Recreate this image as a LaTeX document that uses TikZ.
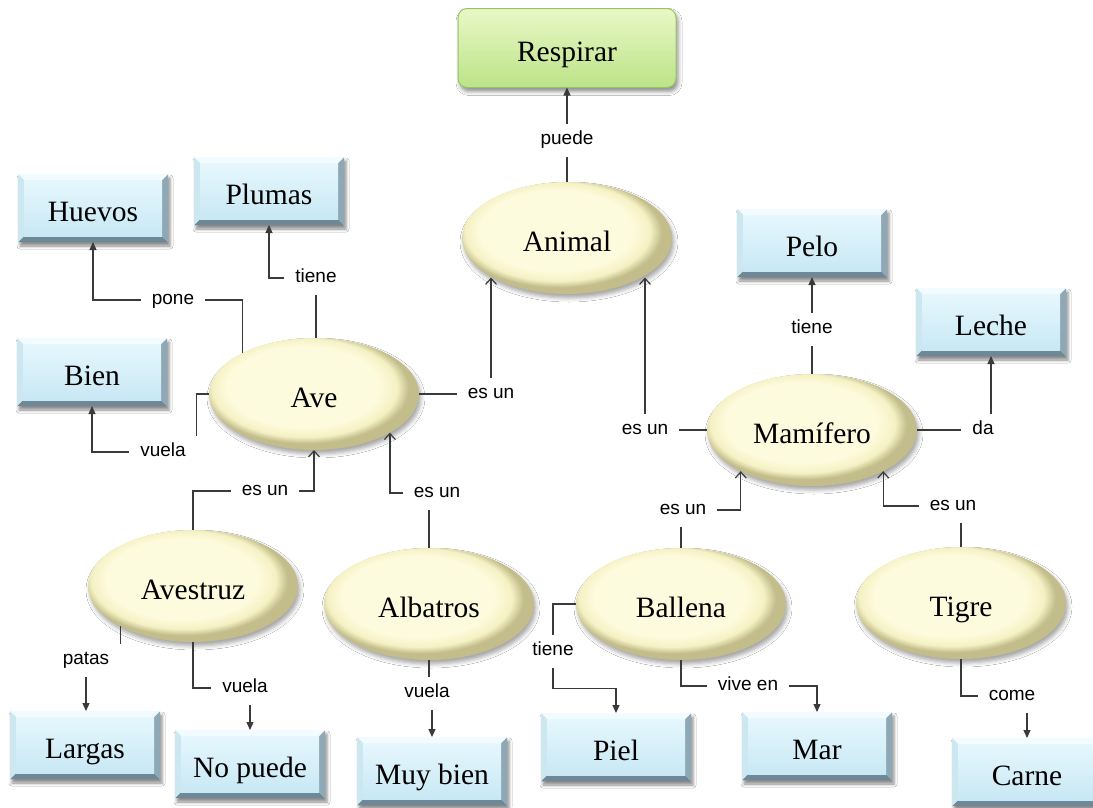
\documentclass[tikz,border=0pt]{standalone}
\usepackage{fontspec}
\setmainfont{Liberation Serif}
\newfontfamily\labelfont{Liberation Sans}
\usetikzlibrary{arrows.meta,shadows.blur,calc,shapes.geometric}

\definecolor{linkgray}{HTML}{3A3A3A}
\definecolor{boxtop}{HTML}{E6F7FD}
\definecolor{boxbot}{HTML}{C8E8F4}
\definecolor{bevlight}{HTML}{F2FBFF}
\definecolor{bevleft}{HTML}{CDE7F1}
\definecolor{bevright}{HTML}{8FA8B6}
\definecolor{bevbottom}{HTML}{6F8898}
\definecolor{ellin}{HTML}{FDFBDD}
\definecolor{ellmid}{HTML}{F5F1C4}
\definecolor{ellrim}{HTML}{C2BD8A}
\definecolor{greentop}{HTML}{E8F8C6}
\definecolor{greenbot}{HTML}{BCE388}
\definecolor{greenrim}{HTML}{98C266}

% concept ellipse: pale cream face, darker olive rim towards the lower right
\pgfdeclareradialshading{conceptshade}{\pgfpoint{-4bp}{5bp}}{%
  color(0bp)=(ellin); color(18bp)=(ellin); color(22bp)=(ellmid);
  color(24.6bp)=(ellrim); color(50bp)=(ellrim)}

\begin{document}
\begin{tikzpicture}[x=1pt,y=-1pt,
  conceptfont/.style={font=\fontsize{29.5}{33}\selectfont, text height=28pt, text depth=2pt},
  concept/.style={ellipse, conceptfont, minimum width=210pt, minimum height=112pt,
    inner sep=0pt, outer sep=0pt, shading=conceptshade,
    blur shadow={shadow xshift=2pt, shadow yshift=-4pt, shadow blur radius=4pt, shadow opacity=35}},
  bevelbox/.style={rectangle, conceptfont, minimum width=150pt, minimum height=68pt,
    inner sep=0pt, outer sep=0pt, fill=boxbot,
    blur shadow={shadow xshift=2pt, shadow yshift=-4pt, shadow blur radius=3pt, shadow opacity=45},
    path picture={
      \fill[bevbottom] let \p1=(path picture bounding box.south west), \p2=(path picture bounding box.north east) in
        (\x1,\y1) -- (\x2,\y1) -- (\x2-6pt,\y1+6pt) -- (\x1+6pt,\y1+6pt) -- cycle;
      \fill[bevright] let \p1=(path picture bounding box.south west), \p2=(path picture bounding box.north east) in
        (\x2,\y1) -- (\x2,\y2) -- (\x2-6pt,\y2-6pt) -- (\x2-6pt,\y1+6pt) -- cycle;
      \fill[bevlight] let \p1=(path picture bounding box.south west), \p2=(path picture bounding box.north east) in
        (\x2,\y2) -- (\x1,\y2) -- (\x1+6pt,\y2-6pt) -- (\x2-6pt,\y2-6pt) -- cycle;
      \fill[bevleft] let \p1=(path picture bounding box.south west), \p2=(path picture bounding box.north east) in
        (\x1,\y2) -- (\x1,\y1) -- (\x1+6pt,\y1+6pt) -- (\x1+6pt,\y2-6pt) -- cycle;
      \shade[top color=boxtop, bottom color=boxbot] let \p1=(path picture bounding box.south west), \p2=(path picture bounding box.north east) in
        (\x1+6pt,\y1+6pt) rectangle (\x2-6pt,\y2-6pt);
    }},
  goalbox/.style={rectangle, rounded corners=9pt, conceptfont, minimum width=218pt, minimum height=79pt,
    inner sep=0pt, outer sep=0pt, top color=greentop, bottom color=greenbot, draw=greenrim, line width=1pt,
    blur shadow={shadow xshift=2pt, shadow yshift=-4pt, shadow blur radius=4pt, shadow opacity=45}},
  lbl/.style={font=\labelfont\fontsize{19}{21}\selectfont, inner xsep=11pt, inner ysep=8pt,
    text height=13pt, text depth=4pt, outer sep=0pt},
  link/.style={draw=linkgray, line width=1.2pt},
  solidarr/.style={link, -{Triangle[length=8pt,width=7pt]}},
  openarr/.style={link, -{Straight Barb[length=6pt,width=11pt]}}
]
\fill[white] (0,0) rectangle (1093,807);
\useasboundingbox (0,0) rectangle (1093,807);

% concepts
\node[goalbox] (respirar) at (567,48) {Respirar};
\node[concept] (animal)   at (567,238) {Animal};
\node[concept] (ave)      at (314,394) {Ave};
\node[concept] (mamifero) at (812,430) {Mamífero};
\node[concept] (avestruz) at (193,586) {Avestruz};
\node[concept] (albatros) at (429,604) {Albatros};
\node[concept] (ballena)  at (681,604) {Ballena};
\node[concept] (tigre)    at (961,603) {Tigre};

% properties
\node[bevelbox] (huevos)  at (93,208)  {Huevos};
\node[bevelbox] (plumas)  at (269,191) {Plumas};
\node[bevelbox] (bien)    at (92,372)  {Bien};
\node[bevelbox] (pelo)    at (812,243) {Pelo};
\node[bevelbox] (leche)   at (991,322) {Leche};
\node[bevelbox] (largas)  at (85,745)  {Largas};
\node[bevelbox] (nopuede) at (250,764) {No puede};
\node[bevelbox] (muybien) at (432,771) {Muy bien};
\node[bevelbox] (piel)    at (616,747) {Piel};
\node[bevelbox] (mar)     at (817,746) {Mar};
\node[bevelbox] (carne)   at (1027,772) {Carne};

% linking phrases
\node[lbl] (lPuede)  at (567,140) {puede};
\node[lbl] (lPlumas) at (316,278) {tiene};
\node[lbl] (lPone)   at (173,300) {pone};
\node[lbl] (lBien)   at (163,452) {vuela};
\node[lbl] (lAveAn)  at (491,394) {es un};
\node[lbl] (lMamAn)  at (645,430) {es un};
\node[lbl] (lPelo)   at (812,329) {tiene};
\node[lbl] (lDa)     at (983,430) {da};
\node[lbl] (lAvz)    at (265,491) {es un};
\node[lbl] (lAlb)    at (437,493) {es un};
\node[lbl] (lPatas)  at (86,660)  {patas};
\node[lbl] (lNoP)    at (245,688) {vuela};
\node[lbl] (lMuyB)   at (427,693) {vuela};
\node[lbl] (lBal)    at (683,510) {es un};
\node[lbl] (lTig)    at (953,506) {es un};
\node[lbl] (lPiel)   at (553,651) {tiene};
\node[lbl] (lMar)    at (748,686) {vive en};
\node[lbl] (lCome)   at (1012,696) {come};

% Animal
\draw[link] (animal.north) -- (lPuede.south);
\draw[solidarr] (lPuede.north) -- (respirar.south);

% Ave
\draw[link] (lPlumas.south) -- (lPlumas.south |- ave.north);
\draw[solidarr] (lPlumas.west) -| (plumas.south);
\draw[link] (ave.150) |- (lPone.east);
\draw[solidarr] (lPone.west) -| (huevos.south);
\draw[link] (ave.west) -| (lBien.north east);
\draw[solidarr] (lBien.west) -| (bien.south);
\draw[link] (ave.east) -- (lAveAn.west);
\draw[openarr] (lAveAn.north) -- (lAveAn.north |- animal.208);

% Mamifero
\draw[link] (mamifero.west) -- (lMamAn.east);
\draw[openarr] (lMamAn.north) -- (lMamAn.north |- animal.-28);
\draw[link] (mamifero.north) -- (lPelo.south);
\draw[solidarr] (lPelo.north) -- (pelo.south);
\draw[link] (mamifero.east) -- (lDa.west);
\draw[solidarr] (lDa.north -| leche.south) -- (leche.south);

% Avestruz
\draw[link] (avestruz.north) |- (lAvz.west);
\draw[openarr] (lAvz.east) -| (ave.south);
\draw[link] (avestruz.209) -- (avestruz.209 |- lPatas.north east);
\draw[solidarr] (lPatas.south) -- (lPatas.south |- largas.north);
\draw[link] (avestruz.south) |- (lNoP.west);
\draw[solidarr] (lNoP.south -| nopuede.north) -- (nopuede.north);

% Albatros
\draw[link] (albatros.north) -- (albatros.north |- lAlb.south);
\draw[openarr] (lAlb.west) -| (ave.-27);
\draw[link] (albatros.south) -- (albatros.south |- lMuyB.north);
\draw[solidarr] (lMuyB.south -| muybien.north) -- (muybien.north);

% Ballena
\draw[link] (ballena.north) -- (ballena.north |- lBal.south);
\draw[openarr] (lBal.east) -| (mamifero.210);
\draw[link] (ballena.west) -| (lPiel.north);
\draw[solidarr] (lPiel.south) -- ++(0,21) -| (piel.north);
\draw[link] (ballena.south) |- (lMar.west);
\draw[solidarr] (lMar.east) -| (mar.north);

% Tigre
\draw[link] (tigre.north) -- (tigre.north |- lTig.south);
\draw[openarr] (lTig.west) -| (mamifero.-30);
\draw[link] (tigre.south) |- (lCome.west);
\draw[solidarr] (lCome.south -| carne.north) -- (carne.north);
\end{tikzpicture}
\end{document}
